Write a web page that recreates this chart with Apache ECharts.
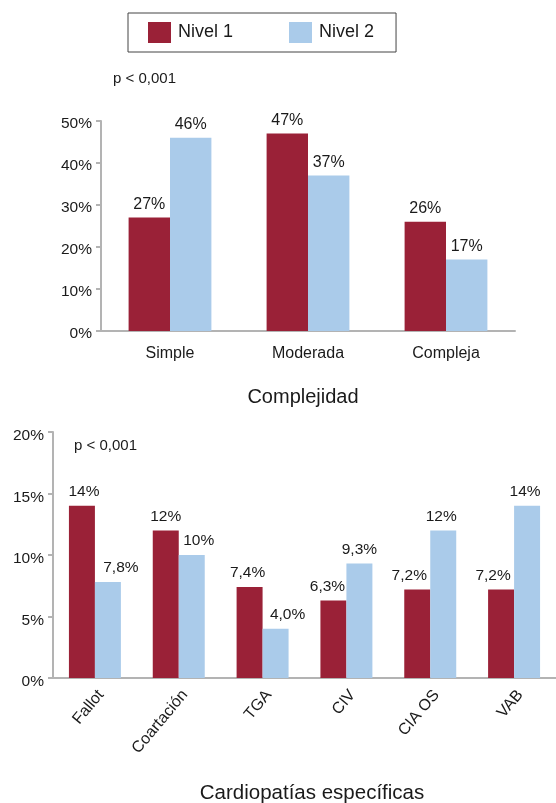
<!DOCTYPE html>
<html><head><meta charset="utf-8">
<script src="https://cdn.jsdelivr.net/npm/echarts@6/dist/echarts.min.js"></script>
<style>html,body{margin:0;padding:0;background:#fff}#c{width:556px;height:803px}</style>
</head><body><div id="c"></div>
<script>
var seriesNames = ['Nivel 1', 'Nivel 2'];
var catsTop = ['Simple', 'Moderada', 'Compleja'];
var topN1 = [27, 47, 26];
var topN2 = [46, 37, 17];
var topTicks = ['0%', '10%', '20%', '30%', '40%', '50%'];
var catsBot = ['Fallot', 'Coartación', 'TGA', 'CIV', 'CIA OS', 'VAB'];
var botN1 = [14, 12, 7.4, 6.3, 7.2, 7.2];
var botN2 = [7.8, 10, 4.0, 9.3, 12, 14];
var botN1Labels = ['14%', '12%', '7,4%', '6,3%', '7,2%', '7,2%'];
var botN2Labels = ['7,8%', '10%', '4,0%', '9,3%', '12%', '14%'];
var botTicks = ['0%', '5%', '10%', '15%', '20%'];
var pText = 'p < 0,001';
var titleTop = 'Complejidad';
var titleBot = 'Cardiopatías específicas';

var RED = '#9a2137', BLUE = '#aacbea';
var FONT = 'Liberation Sans';
var TXT = '#1a1a1a';
var axisLineStyle = {color: '#b3b3b3', width: 2};

// label nudges (presentation only) to mimic the reference's de-overlapped labels
var nudgeN1 = [2, 0, -2, -6, -8, -8];
var nudgeN2 = [13, 7, 12, 0, -2, -2];

function withNudge(vals, nudges) {
  return vals.map(function (v, i) { return {value: v, label: {offset: [nudges[i], 0]}}; });
}
function labelFrom(arr) {
  return function (p) { return arr[p.dataIndex]; };
}

var chart = echarts.init(document.getElementById('c'), null, {renderer: 'canvas'});
chart.setOption({
  animation: false,
  textStyle: {fontFamily: FONT, color: TXT},
  legend: {
    data: seriesNames,
    left: 128, top: 13,
    padding: [9, 22, 9, 20],
    itemWidth: 23, itemHeight: 21, itemGap: 56,
    borderColor: '#444', borderWidth: 1,
    textStyle: {fontSize: 18, fontFamily: FONT, color: TXT, padding: [0, 0, 0, 2]},
    icon: 'rect'
  },
  grid: [
    {left: 101, top: 121, width: 414, height: 210},
    {left: 53, top: 432, width: 503, height: 246}
  ],
  xAxis: [
    {type: 'category', gridIndex: 0, data: catsTop,
     axisLine: {lineStyle: axisLineStyle}, axisTick: {length: 6, lineStyle: axisLineStyle},
     axisLabel: {fontSize: 16, color: TXT, margin: 15, fontFamily: FONT}},
    {type: 'category', gridIndex: 1, data: catsBot,
     axisLine: {lineStyle: axisLineStyle}, axisTick: {length: 6, lineStyle: axisLineStyle},
     axisLabel: {fontSize: 16, color: TXT, rotate: 50, margin: 9, verticalAlign: 'top', fontFamily: FONT}}
  ],
  yAxis: [
    {type: 'value', gridIndex: 0, min: 0, max: 50, interval: 10,
     axisLine: {show: true, lineStyle: axisLineStyle}, axisTick: {show: true, length: 5, lineStyle: axisLineStyle},
     splitLine: {show: false},
     axisLabel: {color: TXT, margin: 9, fontFamily: FONT,
       formatter: function (v) { return '{a|' + topTicks[Math.round(v / 10)] + '}'; },
       rich: {a: {fontSize: 15.5, color: TXT, fontFamily: FONT, padding: [5, 0, 0, 0]}}}},
    {type: 'value', gridIndex: 1, min: 0, max: 20, interval: 5,
     axisLine: {show: true, lineStyle: axisLineStyle}, axisTick: {show: true, length: 5, lineStyle: axisLineStyle},
     splitLine: {show: false},
     axisLabel: {color: TXT, margin: 9, fontFamily: FONT,
       formatter: function (v) { return '{a|' + botTicks[Math.round(v / 5)] + '}'; },
       rich: {a: {fontSize: 15.5, color: TXT, fontFamily: FONT, padding: [8, 0, 0, 0]}}}}
  ],
  series: [
    {name: seriesNames[0], type: 'bar', xAxisIndex: 0, yAxisIndex: 0, data: topN1,
     barWidth: '30%', barGap: '0%', itemStyle: {color: RED},
     label: {show: true, position: 'top', distance: 5, fontSize: 16, color: TXT, fontFamily: FONT,
       formatter: function (p) { return p.value + '%'; }}},
    {name: seriesNames[1], type: 'bar', xAxisIndex: 0, yAxisIndex: 0, data: topN2,
     barWidth: '30%', barGap: '0%', itemStyle: {color: BLUE},
     label: {show: true, position: 'top', distance: 5, fontSize: 16, color: TXT, fontFamily: FONT,
       formatter: function (p) { return p.value + '%'; }}},
    {name: seriesNames[0], type: 'bar', xAxisIndex: 1, yAxisIndex: 1, data: withNudge(botN1, nudgeN1),
     barWidth: '31%', barGap: '0%', itemStyle: {color: RED},
     label: {show: true, position: 'top', distance: 6, fontSize: 15.5, color: TXT, fontFamily: FONT,
       formatter: labelFrom(botN1Labels)}},
    {name: seriesNames[1], type: 'bar', xAxisIndex: 1, yAxisIndex: 1, data: withNudge(botN2, nudgeN2),
     barWidth: '31%', barGap: '0%', itemStyle: {color: BLUE},
     label: {show: true, position: 'top', distance: 6, fontSize: 15.5, color: TXT, fontFamily: FONT,
       formatter: labelFrom(botN2Labels)}}
  ],
  graphic: [
    {type: 'text', left: 113, top: 71, style: {text: pText, fontSize: 15, fontFamily: FONT, fill: TXT}},
    {type: 'text', left: 74, top: 438, style: {text: pText, fontSize: 15, fontFamily: FONT, fill: TXT}},
    {type: 'text', x: 303, y: 397, style: {text: titleTop, fontSize: 20, fontFamily: FONT, fill: TXT, align: 'center', verticalAlign: 'middle'}},
    {type: 'text', x: 312, y: 793, style: {text: titleBot, fontSize: 20.5, fontFamily: FONT, fill: TXT, align: 'center', verticalAlign: 'middle'}}
  ]
});
</script>
</body></html>
